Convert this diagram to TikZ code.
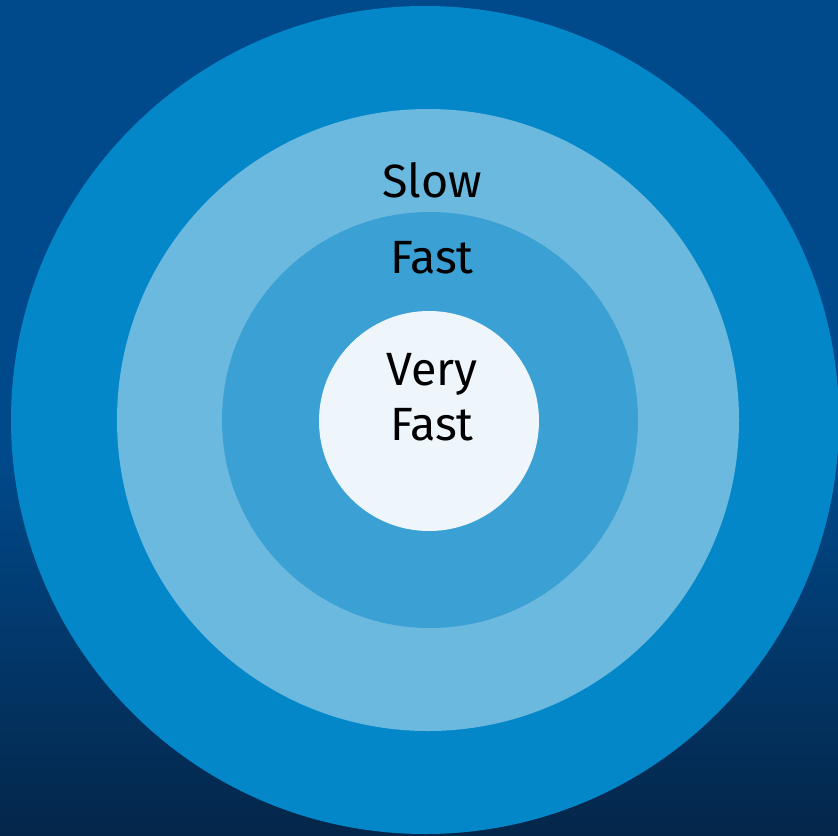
\documentclass[tikz,border=0pt]{standalone}
\usepackage{fontspec}
\setmainfont{Fira Sans}
\definecolor{bgtop}{HTML}{004A8C}
\definecolor{bgbot}{HTML}{04264A}
\definecolor{ringa}{HTML}{0487C8}
\definecolor{ringb}{HTML}{6CB9DF}
\definecolor{ringc}{HTML}{3BA0D4}
\definecolor{core}{HTML}{EEF6FC}
\def\speed#1#2#3{\node[black,align=center] (#1) at (#2) {#3};}
\begin{document}
\begin{tikzpicture}[x=0.75pt,y=-0.75pt,font=\fontsize{35}{41}\selectfont]
\useasboundingbox (0,0) rectangle (838,835);
\clip (0,0) rectangle (838,835);
\fill[bgtop] (0,0) rectangle (838,836);
\shade[top color=bgtop,bottom color=bgbot] (0,450) rectangle (838,835);
\fill[ringa] (425,420) circle (414);
\fill[ringb] (428,420) circle (311);
\fill[ringc] (430,420) circle (208);
\fill[core]  (429,421) circle (110);
\speed{slow}{432,180}{Slow}
\speed{fast}{432,258}{Fast}
\speed{veryfast}{432,397}{Very\\Fast}
\end{tikzpicture}
\end{document}
